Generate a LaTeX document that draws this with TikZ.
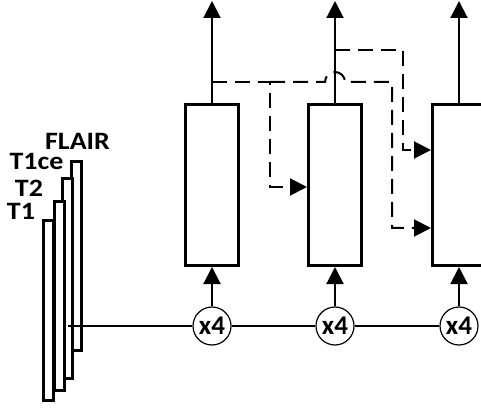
\documentclass[tikz,border=0pt]{standalone}
\usepackage{fontspec}
\setmainfont{Carlito}
\usetikzlibrary{arrows.meta}

\newcommand*{\boxy}{222}
\newcommand*{\repy}{81}
\newcommand*{\topy}{406}

\begin{document}
\begin{tikzpicture}
[
	x=1pt,y=1pt,
	block/.style={rectangle,draw,fill=white,line width=3pt,inner sep=0pt,minimum width=53pt,minimum height=161pt},
	modality/.style={rectangle,draw,fill=white,line width=3pt,inner sep=0pt,minimum width=10pt},
	modname/.style={inner sep=0pt,font=\fontsize{25}{25}\selectfont\bfseries},
	rep/.style={circle,draw,fill=white,line width=1.2pt,inner sep=0pt,minimum size=38pt,font=\fontsize{27}{27}\selectfont\bfseries},
	arr/.style={line width=2pt,-{Triangle[width=17pt,length=17pt]}},
	skip/.style={line width=2pt,dash pattern=on 15pt off 8pt,-{Triangle[width=17pt,length=17pt]}}
]

	\clip (0,0) rectangle (481,407);
	\useasboundingbox (0,0) rectangle (481,407);

	% input modalities, back to front
	\node[modality,minimum height=189pt] (flair) at (76,151) {};
	\node[modality,minimum height=200pt] (tce) at (67,128.5) {};
	\node[modality,minimum height=189pt] (ttwo) at (59,111) {};
	\node[modality,minimum height=180pt] (tone) at (48.5,96.5) {};

	\node[modname] (lflair) at (77.5,266) {\scalebox{1.12}[1]{FLAIR}};
	\node[modname] (ltce) at (36.5,245.5) {\scalebox{1.12}[1]{T1ce}};
	\node[modname] (lttwo) at (29,219) {\scalebox{1.12}[1]{T2}};
	\node[modname] (ltone) at (21,195.5) {\scalebox{1.12}[1]{T1}};

	% blocks
	\foreach \i/\x in {1/212,2/335,3/459} {
		\node[block] (b\i) at (\x,\boxy) {};
		\node[rep] (r\i) at (\x,\repy) {x4};
		\coordinate (t\i) at (\x,\topy);
		\draw[arr] (b\i) -- (t\i);
		\draw[arr] (r\i) -- (b\i);
	}

	\coordinate (in) at ([xshift=-2pt]flair.west |- r1);
	\draw[line width=1.3pt] (in) -- (r1) -- (r2) -- (r3);

	% skip connections
	\coordinate (j1) at (212,325);
	\coordinate (j2) at (335,357);
	\coordinate (d1) at (270,220);
	\coordinate (d2) at (392,179);
	\coordinate (d3) at (403,257);

	\draw[skip] (j1) -| (d1) -- (d1 -| b2.west);
	\draw[skip] (j1 -| d1) -- (325,325) arc (180:0:10) -| (d2) -- (d2 -| b3.west);
	\draw[skip] (j2) -| (d3) -- (d3 -| b3.west);

\end{tikzpicture}
\end{document}
